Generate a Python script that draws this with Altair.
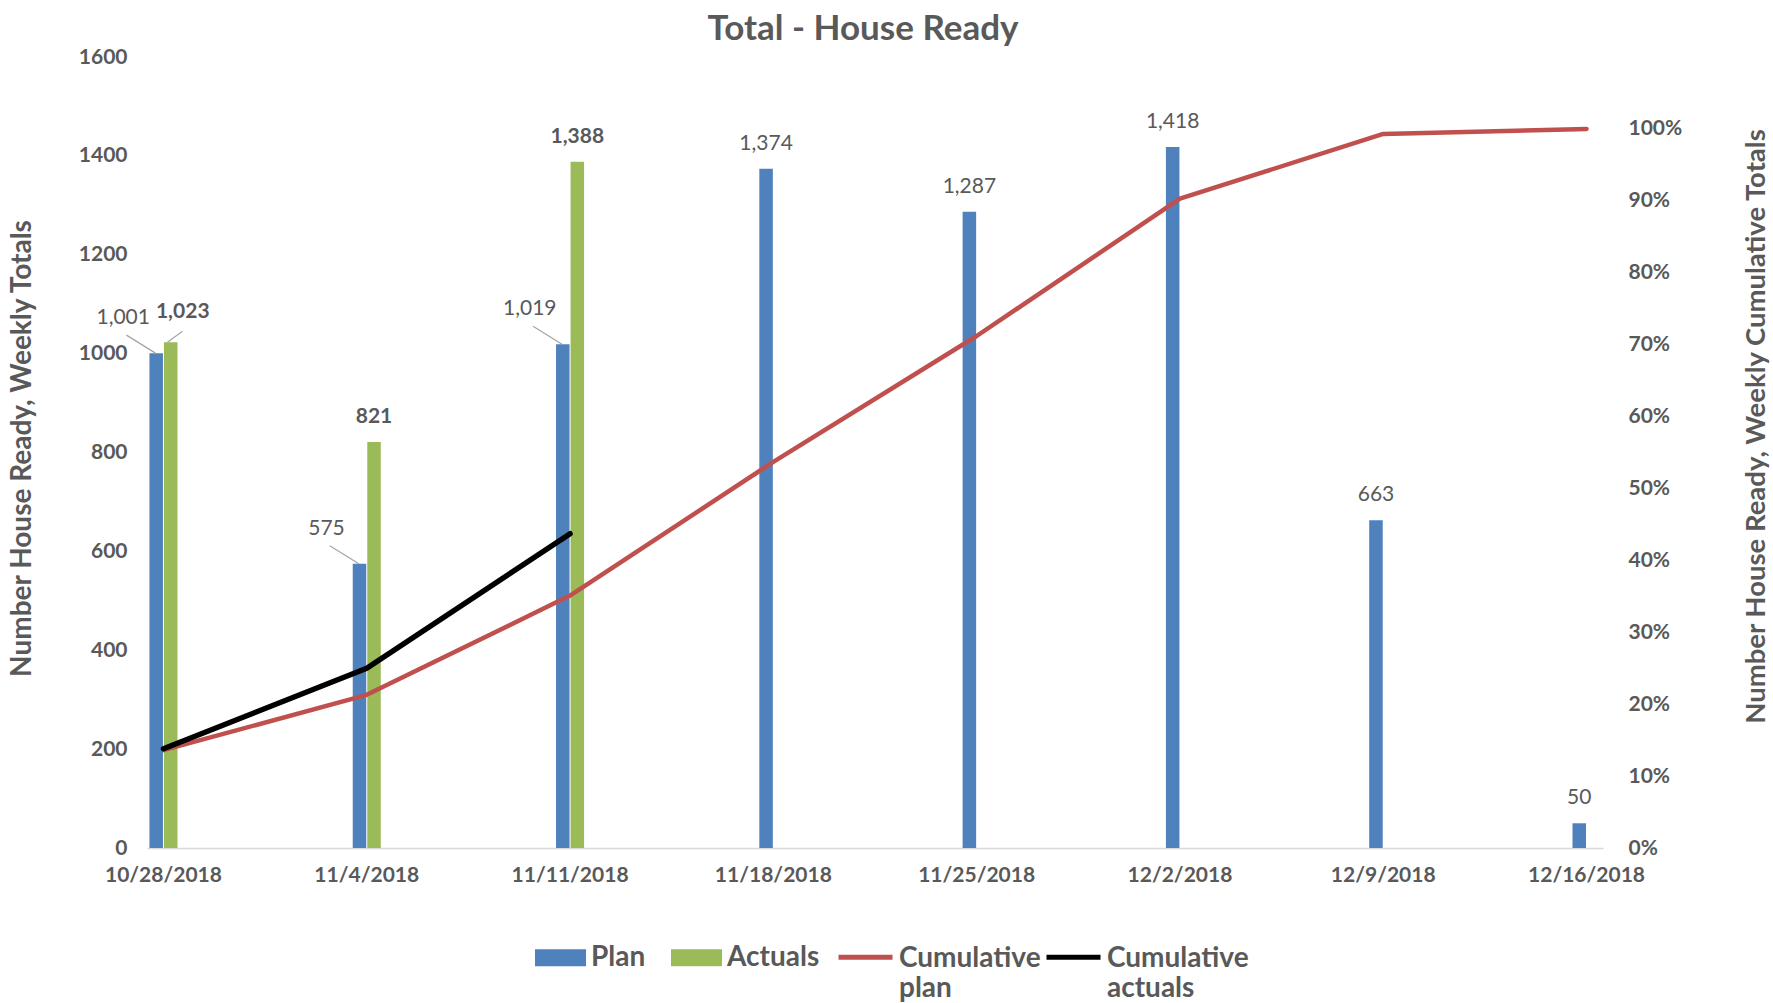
import altair as alt
import pandas as pd

# ---------------- data ----------------
weeks = ["10/28/2018", "11/4/2018", "11/11/2018", "11/18/2018",
         "11/25/2018", "12/2/2018", "12/9/2018", "12/16/2018"]
plan = [1001, 575, 1019, 1374, 1287, 1418, 663, 50]
actual_weeks = ["10/28/2018", "11/4/2018", "11/11/2018"]
actuals = [1023, 821, 1388]
cum_plan = [0.136, 0.213, 0.351, 0.537, 0.712, 0.903, 0.993, 1.0]
cum_actuals = [0.138, 0.250, 0.437]
bar_series = ["Plan", "Actuals"]
line_series = ["Cumulative plan", "Cumulative actuals"]
left_ticks = [0, 200, 400, 600, 800, 1000, 1200, 1400, 1600]
right_ticks = [0, 0.1, 0.2, 0.3, 0.4, 0.5, 0.6, 0.7, 0.8, 0.9, 1.0]

bars_df = pd.DataFrame({
    "week": weeks + actual_weeks,
    "series": ["Plan"] * len(plan) + ["Actuals"] * len(actuals),
    "value": plan + actuals,
})
lines_df = pd.DataFrame({
    "week": weeks + actual_weeks,
    "line": ["Cumulative plan"] * len(cum_plan) + ["Cumulative actuals"] * len(cum_actuals),
    "pct": cum_plan + cum_actuals,
})

# ---------------- styling ----------------
FONT = "Lato"
GRAY = "#595959"
BLUE, GREEN, RED, BLACK = "#4F81BD", "#9BBB59", "#C0504D", "#000000"

x_enc = alt.X(
    "week:N", sort=weeks,
    scale=alt.Scale(domain=weeks, paddingInner=0.862, paddingOuter=0.012),
    axis=alt.Axis(title=None, labelAngle=0, labelFont=FONT, labelFontSize=21,
                  labelFontWeight="bold", labelColor=GRAY, labelPadding=16,
                  ticks=False, domainColor="#D9D9D9", domainWidth=1.5, grid=False),
)
xoff = alt.XOffset("series:N", sort=bar_series,
                   scale=alt.Scale(domain=bar_series, paddingInner=0.07))
y_left = alt.Y(
    "value:Q", scale=alt.Scale(domain=[0, 1600], nice=False),
    axis=alt.Axis(title="Number House Ready, Weekly Totals", values=left_ticks,
                  format="d", labelFont=FONT, labelFontSize=21, labelFontWeight="bold",
                  labelColor=GRAY, labelPadding=20, ticks=False, domain=False, grid=False,
                  titleFont=FONT, titleFontSize=28, titleFontWeight="bold", titleColor=GRAY,
                  titleAngle=270, titleX=-125, titleY=391, titleAlign="center",
                  titleBaseline="middle"),
)
y_right = alt.Y(
    "pct:Q", scale=alt.Scale(domain=[0, 1.1], nice=False),
    axis=alt.Axis(title="Number House Ready, Weekly Cumulative Totals", values=right_ticks,
                  format=".0%", orient="right", labelFont=FONT, labelFontSize=21,
                  labelFontWeight="bold", labelColor=GRAY, labelPadding=25, ticks=False,
                  domain=False, grid=False, titleFont=FONT, titleFontSize=27.5,
                  titleFontWeight="bold", titleColor=GRAY, titleAngle=270, titleX=153,
                  titleY=369, titleAlign="center", titleBaseline="middle"),
)

bars = alt.Chart(bars_df).mark_bar().encode(
    x=x_enc, xOffset=xoff, y=y_left,
    color=alt.Color("series:N", sort=bar_series,
                    scale=alt.Scale(domain=bar_series, range=[BLUE, GREEN]),
                    legend=alt.Legend(
                        title=None, orient="none", legendX=388, legendY=875,
                        direction="horizontal", symbolType="M-1,-0.33H1V0.33H-1Z",
                        symbolSize=2601, symbolStrokeWidth=0, labelFont=FONT,
                        labelFontSize=28, labelFontWeight="bold", labelColor=GRAY,
                        labelOffset=5, columnPadding=25, padding=0)),
)


def labels(series, sel_weeks, dx, dy, weight):
    return alt.Chart(bars_df).transform_filter(
        alt.FieldEqualPredicate(field="series", equal=series)
    ).transform_filter(
        alt.FieldOneOfPredicate(field="week", oneOf=sel_weeks)
    ).mark_text(font=FONT, fontSize=21, fontWeight=weight, color=GRAY,
                dx=dx, dy=dy, baseline="middle", align="center").encode(
        x=x_enc, xOffset=xoff, y=y_left, text=alt.Text("value:Q", format=","))


def leader(series, sel_weeks, x0, y0, x1, y1):
    # offsets are relative to the centre of the week's group
    return alt.Chart(bars_df).transform_filter(
        alt.FieldEqualPredicate(field="series", equal=series)
    ).transform_filter(
        alt.FieldOneOfPredicate(field="week", oneOf=sel_weeks)
    ).mark_rule(color="#A6A6A6", strokeWidth=1.3, xOffset=x0, yOffset=y0,
                x2Offset=x1, y2Offset=y1).encode(
        x=x_enc, x2=alt.X2("week:N"), y=y_left, y2=alt.Y2("value:Q"))


left = alt.layer(
    bars,
    leader("Plan", weeks[:3], -37, -18, -8, 0),
    leader("Actuals", weeks[:1], 4, 0, 19, -11),
    labels("Plan", weeks[3:], 0, -25, "normal"),
    labels("Plan", weeks[:3], -33, -35, "normal"),
    labels("Actuals", weeks[1:3], 0, -25, "bold"),
    labels("Actuals", weeks[:1], 12, -30, "bold"),
)

stroke_enc = alt.Stroke(
    "line:N", sort=line_series,
    scale=alt.Scale(domain=line_series, range=[RED, BLACK]),
    legend=alt.Legend(
        title=None, orient="none", legendX=689, legendY=880, direction="horizontal",
        symbolType="M-1,-0.35L1,-0.35", symbolSize=2916, symbolStrokeWidth=5,
        labelFont=FONT, labelFontSize=28, labelFontWeight="bold", labelColor=GRAY,
        labelOffset=4, columnPadding=-5, padding=0, labelBaseline="alphabetic",
        labelLimit=400,
        labelExpr="split(datum.label, ' ')"),
)

red_line = alt.Chart(lines_df).transform_filter(
    alt.FieldEqualPredicate(field="line", equal="Cumulative plan")
).mark_line(strokeWidth=4.5, strokeCap="round", strokeJoin="round").encode(
    x=x_enc, y=y_right, stroke=stroke_enc)
black_line = alt.Chart(lines_df).transform_filter(
    alt.FieldEqualPredicate(field="line", equal="Cumulative actuals")
).mark_line(strokeWidth=5.5, strokeCap="round", strokeJoin="round").encode(
    x=x_enc, y=y_right, stroke=stroke_enc)

right = alt.layer(red_line, black_line)

chart = alt.layer(left, right).resolve_scale(y="independent").properties(
    width=1456, height=791,
    autosize=alt.AutoSizeParams(type="none"),
    padding={"left": 147, "top": 57, "right": 170, "bottom": 155},
    title=alt.Title("Total - House Ready", font=FONT, fontSize=35, fontWeight="bold",
                    color=GRAY, anchor="middle", frame="group", offset=0, dy=1, dx=-12),
).configure(background="white").configure_view(stroke=None)

chart.save("out.html", embed_options={"renderer": "svg", "actions": False})
